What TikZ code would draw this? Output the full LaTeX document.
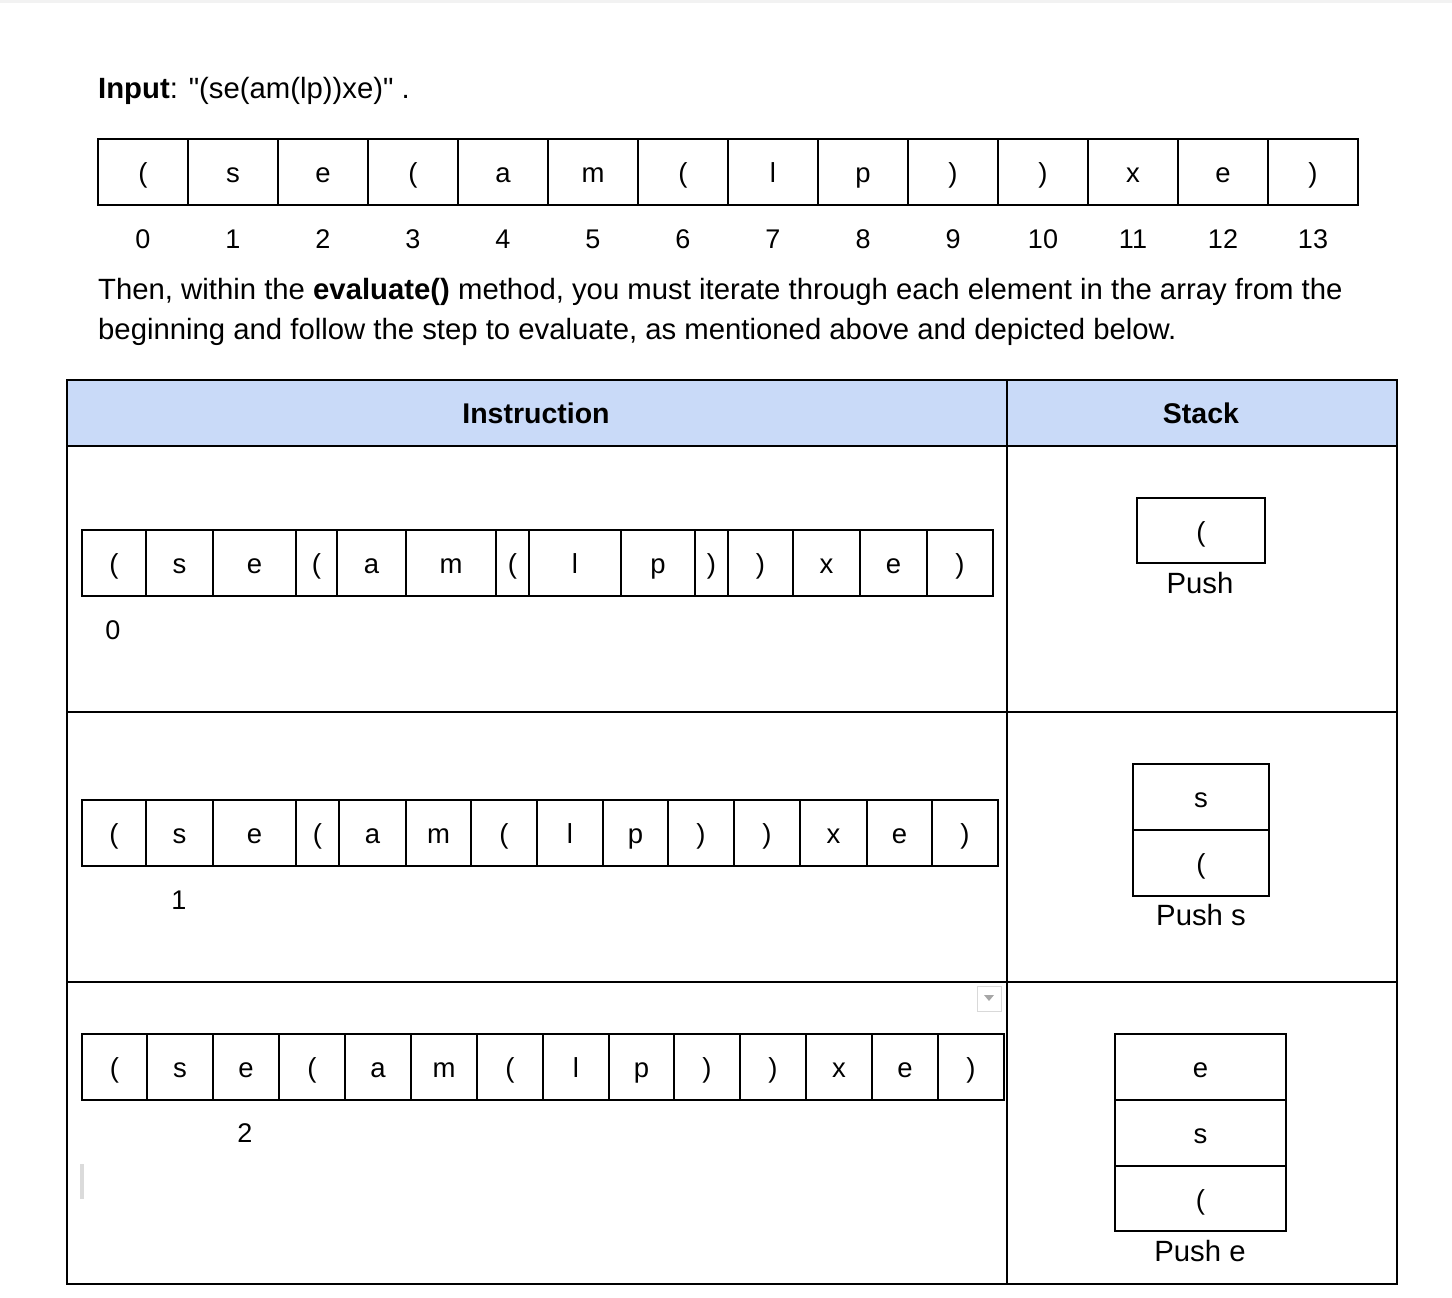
\documentclass[tikz,border=0pt]{standalone}
\usepackage{fontspec}
\setmainfont{Liberation Sans}[Ligatures=TeXOff]
\newcommand\bodyfont{\fontsize{29.3}{35}\selectfont}
\newcommand\cellfont{\fontsize{27.5}{33}\selectfont}
\newcommand\idxfont{\fontsize{27}{32}\selectfont}
\newcommand\headfont{\fontsize{28.5}{33}\selectfont\bfseries}
\definecolor{hdrblue}{HTML}{C9DAF8}
\begin{document}
\begin{tikzpicture}[x=1pt,y=-1pt,
  cellbox/.style={draw=black, line width=2pt, inner sep=0pt, text height=23pt, text depth=2pt, font=\cellfont},
  idx/.style={anchor=base, inner sep=0pt, font=\idxfont},
  lbl/.style={anchor=base, inner sep=0pt, font=\bodyfont},
  txt/.style={anchor=base west, inner sep=0pt, font=\bodyfont},
  hdr/.style={inner sep=0pt, font=\headfont},
  rule/.style={line width=2pt},
]
\useasboundingbox (0,0) rectangle (1452,1298);
\fill[black!5] (0,0) rectangle (1452,3);

% title
\node[txt] (title) at (98,99) {\textbf{Input}: "(se(am(lp))xe)" .};

% top array
\foreach \c [count=\i from 0] in {{(},s,e,{(},a,m,{(},l,p,{)},{)},x,e,{)}} {
  \node[cellbox, minimum width=90, minimum height=66] (t\i) at ({143+90*\i},172) {\c};
  \node[idx] (ti\i) at ({143+90*\i},248) {\i};
}

% paragraph
\node[txt] (p1) at (98,299) {Then, within the \textbf{evaluate()} method, you must iterate through each element in the array from the};
\node[txt] (p2) at (98,339) {beginning and follow the step to evaluate, as mentioned above and depicted below.};

% table
\fill[hdrblue] (67,380) rectangle (1007,446);
\fill[hdrblue] (1007,380) rectangle (1397,446);
\draw[rule] (67,380) rectangle (1397,1284);
\draw[rule] (67,446) -- (1397,446);
\draw[rule] (67,712) -- (1397,712);
\draw[rule] (67,982) -- (1397,982);
\draw[rule] (1007,380) -- (1007,1284);
\node[hdr] (hinstr) at (536,413) {Instruction};
\node[hdr] (hstack) at (1201,413) {Stack};

% row 1 array
\foreach \l/\r/\c [count=\i from 0] in {82/146/{(},146/213/s,213/296/e,296/337/{(},337/406/a,406/496/m,496/529/{(},529/621/l,621/695/p,695/728/{)},728/793/{)},793/860/x,860/927/e,927/993/{)}} {
  \node[cellbox, minimum width={\r-\l}, minimum height=66] (ra\i) at ({(\l+\r)/2},563) {\c};
}
\node[idx] (ia) at (113,639) {0};

% row 2 array
\foreach \l/\r/\c [count=\i from 0] in {82/146/{(},146/213/s,213/296/e,296/339/{(},339/406/a,406/471/m,471/537/{(},537/603/l,603/668/p,668/734/{)},734/800/{)},800/867/x,867/932/e,932/998/{)}} {
  \node[cellbox, minimum width={\r-\l}, minimum height=66] (rb\i) at ({(\l+\r)/2},833) {\c};
}
\node[idx] (ib) at (179,909) {1};

% row 3 array
\foreach \l/\r/\c [count=\i from 0] in {82/147/{(},147/213/s,213/279/e,279/345/{(},345/411/a,411/477/m,477/543/{(},543/609/l,609/674/p,674/740/{)},740/806/{)},806/872/x,872/938/e,938/1004/{)}} {
  \node[cellbox, minimum width={\r-\l}, minimum height=66] (rc\i) at ({(\l+\r)/2},1067) {\c};
}
\node[idx] (ic) at (245,1142) {2};

% stacks
\node[cellbox, minimum width=128, minimum height=65] (sa1) at (1201,530.5) {(};
\node[lbl] (pa) at (1200,593) {Push};

\node[cellbox, minimum width=136, minimum height=66] (sb1) at (1201,797) {s};
\node[cellbox, minimum width=136, minimum height=66] (sb2) at (1201,863) {(};
\node[lbl] (pb) at (1201,925) {Push s};

\node[cellbox, minimum width=171, minimum height=66] (sc1) at (1200.5,1067) {e};
\node[cellbox, minimum width=171, minimum height=66] (sc2) at (1200.5,1133) {s};
\node[cellbox, minimum width=171, minimum height=65] (sc3) at (1200.5,1198.5) {(};
\node[lbl] (pc) at (1200,1261) {Push e};

% small UI marks
\draw[black!15, line width=1pt] (977,986) rectangle (1001,1011);
\fill[black!35] (984,995) -- (994,995) -- (989,1001) -- cycle;
\fill[black!14] (80,1164) rectangle (84,1199);
\end{tikzpicture}
\end{document}
